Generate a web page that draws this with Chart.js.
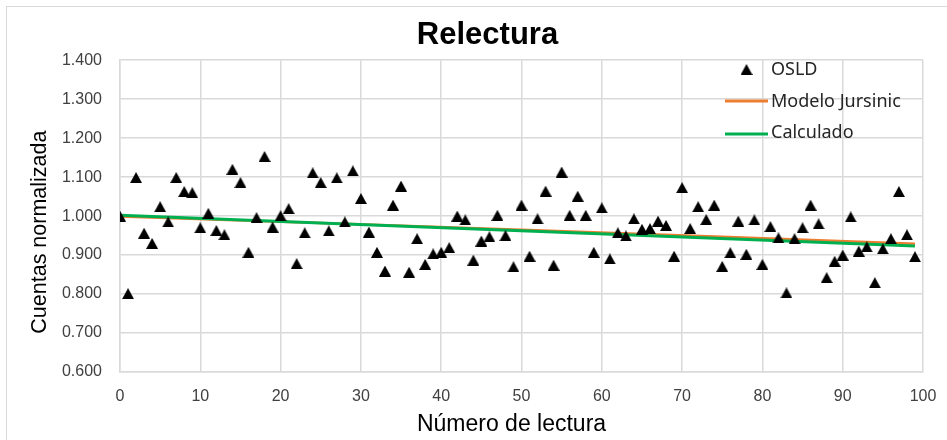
<!DOCTYPE html>
<html><head><meta charset="utf-8">
<script src="https://cdn.jsdelivr.net/npm/chart.js@4"></script>
<style>html,body{margin:0;padding:0;background:#fff;overflow:hidden}#wrap{width:947px;height:440px}</style>
</head><body><div id="wrap"><canvas id="c" width="947" height="440"></canvas></div>
<script>
const lecturas = [0,1,2,3,4,5,6,7,8,9,10,11,12,13,14,15,16,17,18,19,
  20,21,22,23,24,25,26,27,28,29,30,31,32,33,34,35,36,37,38,39,
  40,41,42,43,44,45,46,47,48,49,50,51,52,53,54,55,56,57,58,59,
  60,61,62,63,64,65,66,67,68,69,70,71,72,73,74,75,76,77,78,79,
  80,81,82,83,84,85,86,87,88,89,90,91,92,93,94,95,96,97,98,99];
const osld = [1.000,0.801,1.099,0.956,0.930,1.024,0.985,1.099,1.063,1.060,
  0.970,1.007,0.963,0.952,1.120,1.086,0.907,0.996,1.153,0.972,
  1.001,1.019,0.878,0.957,1.111,1.086,0.962,1.098,0.985,1.116,
  1.045,0.959,0.907,0.859,1.028,1.077,0.856,0.942,0.876,0.903,
  0.907,0.919,1.000,0.990,0.887,0.936,0.947,1.002,0.950,0.870,
  1.028,0.897,0.993,1.064,0.874,1.113,1.002,1.051,1.002,0.907,
  1.021,0.890,0.957,0.949,0.993,0.966,0.968,0.987,0.976,0.897,
  1.073,0.968,1.024,0.991,1.028,0.871,0.906,0.987,0.902,0.990,
  0.876,0.973,0.944,0.803,0.942,0.970,1.028,0.980,0.842,0.884,
  0.900,0.998,0.910,0.921,0.829,0.916,0.942,1.063,0.952,0.896];
const jursinicX = [0, 25, 50, 75, 99];
const jursinicY = [0.999, 0.982, 0.965, 0.947, 0.929];
const calcX = [0, 99];
const calcY = [1.002, 0.923];
const xTicks = [0,10,20,30,40,50,60,70,80,90,100];
const yTicks = [0.6,0.7,0.8,0.9,1.0,1.1,1.2,1.3,1.4];
const yTickLabels = ['0.600','0.700','0.800','0.900','1.000','1.100','1.200','1.300','1.400'];
const seriesNames = ['OSLD','Modelo Jursinic','Calculado'];
const chartTitle = 'Relectura';
const xTitle = 'Número de lectura';
const yTitle = 'Cuentas normalizada';

const tri = document.createElement('canvas');
tri.width = 12; tri.height = 11;
(function(){const t = tri.getContext('2d'); t.fillStyle = '#000'; t.beginPath(); t.moveTo(6,0); t.lineTo(12,11); t.lineTo(0,11); t.closePath(); t.fill();})();

const tickFont = {family:'Liberation Sans', size:16};
function shiftTitle(scale, dx, dy){
  if (scale._shifted) return;
  const orig = scale.drawTitle.bind(scale);
  scale.drawTitle = function(){ const g=this.ctx; g.save(); g.translate(dx,dy); orig(); g.restore(); };
  scale._shifted = true;
}
const frame = {
  id:'frame',
  beforeDraw(c){const g=c.ctx; g.save(); g.fillStyle='#fff'; g.fillRect(0,0,c.width,c.height);
    g.strokeStyle='#d9d9d9'; g.lineWidth=1; g.strokeRect(6.5,6.5,1000,1000); g.restore();},
  afterLayout(c){
    if(c.titleBlock){ c.titleBlock.left += 26; c.titleBlock.right += 26; }
    shiftTitle(c.scales.x, -10, 0);
    shiftTitle(c.scales.y, 0, 16);
  }
};
const legendPlugin = {
  id:'customLegend',
  afterDraw(c){
    const g=c.ctx; g.save();
    const ds=c.data.datasets;
    g.font='18px "Noto Sans"'; g.fillStyle='#262626'; g.textBaseline='middle'; g.textAlign='left';
    const tx=771, ys=[70,101.5,133];
    g.drawImage(tri, 746.5-6, 69.5-5.5);
    g.fillText(ds[0].label, tx, ys[0]);
    g.lineWidth=3;
    g.strokeStyle=ds[1].borderColor; g.beginPath(); g.moveTo(725,101); g.lineTo(768,101); g.stroke();
    g.fillText(ds[1].label, tx, ys[1]);
    g.strokeStyle=ds[2].borderColor; g.beginPath(); g.moveTo(725,134); g.lineTo(768,134); g.stroke();
    g.fillText(ds[2].label, tx, ys[2]);
    g.restore();
  }
};

new Chart(document.getElementById('c'), {
  type:'scatter',
  data:{datasets:[
    {label:seriesNames[0], data:lecturas.map((x,i)=>({x:x,y:osld[i]})), pointStyle:tri, pointRadius:6,
     backgroundColor:'#000', borderColor:'#000', order:0},
    {label:seriesNames[1], data:jursinicX.map((x,i)=>({x:x,y:jursinicY[i]})), showLine:true,
     borderColor:'#ED7D31', backgroundColor:'#ED7D31', borderWidth:2.5, pointRadius:0, order:2},
    {label:seriesNames[2], data:calcX.map((x,i)=>({x:x,y:calcY[i]})), showLine:true,
     borderColor:'#00B050', backgroundColor:'#00B050', borderWidth:3, pointRadius:0, order:1}
  ]},
  options:{
    responsive:false, animation:false, devicePixelRatio:1,
    layout:{padding:{left:0,right:24,top:0,bottom:0}},
    plugins:{
      legend:{display:false}, tooltip:{enabled:false},
      title:{display:true, text:chartTitle, color:'#000',
        font:{family:'Liberation Sans', size:31, weight:'bold'}, padding:{top:17,bottom:6}}
    },
    scales:{
      x:{type:'linear', min:0, max:100,
        afterBuildTicks:s=>{s.ticks = xTicks.map(v=>({value:v}));},
        ticks:{font:tickFont, color:'#404040', padding:3, maxRotation:0, autoSkip:false, callback:v=>String(v)},
        grid:{color:'#d9d9d9', lineWidth:1.5, drawTicks:true, tickLength:12, tickColor:'rgba(0,0,0,0)'},
        border:{color:'#d9d9d9', width:1.5},
        title:{display:true, text:xTitle, color:'#000', font:{family:'Liberation Sans', size:23}, padding:{top:0,bottom:2}},
        afterFit:s=>{s.height=68;}},
      y:{type:'linear', min:0.6, max:1.4,
        afterBuildTicks:s=>{s.ticks = yTicks.map(v=>({value:v}));},
        ticks:{font:tickFont, color:'#404040', padding:18, autoSkip:false,
          callback:(v)=>{const i=yTicks.findIndex(t=>Math.abs(t-v)<1e-9); return i>=0?yTickLabels[i]:'';}},
        grid:{color:'#d9d9d9', lineWidth:1.5, drawTicks:false},
        border:{color:'#d9d9d9', width:1.5},
        title:{display:true, text:yTitle, color:'#000', font:{family:'Liberation Sans', size:21.5}, padding:{top:27,bottom:0}},
        afterFit:s=>{s.width=120;}}
    }
  },
  plugins:[frame, legendPlugin]
});
</script></body></html>
